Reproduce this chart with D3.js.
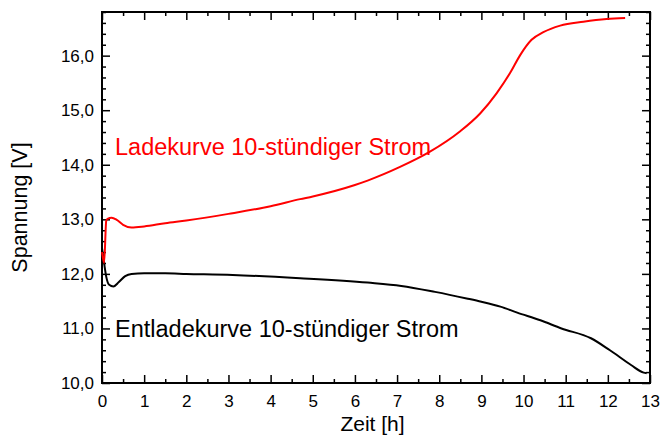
<!DOCTYPE html>
<html>
<head>
<meta charset="utf-8">
<script src="https://cdn.jsdelivr.net/npm/d3@7"></script>
<style>
	body { margin: 0; background: #fff; }
	text { font-family: "Liberation Sans", Arial, sans-serif; }
</style>
</head>
<body>
<div id="chart"></div>
<script>
// Zeit [h] / Spannung [V]
const ladeZeit = [0, 0.05, 0.1, 0.13, 0.23, 0.35, 0.5, 0.7, 1.0, 1.5, 2.0, 3.0, 4.0, 4.7, 5.0, 6.0, 6.3, 7.07, 7.78, 8.49, 8.97, 9.36, 9.68, 9.92, 10.19, 10.47, 10.87, 11.42, 11.97, 12.41];
const ladeSpannung = [12.4, 12.2, 12.97, 13.01, 13.03, 12.99, 12.9, 12.85, 12.87, 12.93, 12.98, 13.1, 13.24, 13.37, 13.42, 13.63, 13.71, 13.96, 14.24, 14.61, 14.94, 15.31, 15.68, 16.01, 16.29, 16.43, 16.55, 16.62, 16.67, 16.69];

const entladeZeit = [0, 0.05, 0.1, 0.17, 0.27, 0.4, 0.55, 0.7, 1.0, 1.5, 2.0, 3.1, 4.7, 6.3, 7.1, 7.9, 8.65, 9.0, 9.45, 9.85, 10.4, 10.9, 11.6, 12.05, 12.55, 12.85, 12.92];
const entladeSpannung = [12.47, 12.2, 11.95, 11.8, 11.77, 11.85, 11.96, 12.0, 12.01, 12.01, 12.0, 11.98, 11.92, 11.84, 11.78, 11.67, 11.55, 11.49, 11.4, 11.29, 11.15, 11.0, 10.82, 10.6, 10.33, 10.19, 10.18];

const xTicks = d3.range(0, 14, 1);
const yTicks = [10, 11, 12, 13, 14, 15, 16];

let margin = { top: 12, right: 18, bottom: 54, left: 102 },
	width = 668 - margin.left - margin.right,
	height = 437 - margin.top - margin.bottom;

let svg = d3.select('#chart')
	.append('svg')
	.attr('width', 668)
	.attr('height', 437)
	.append('g')
	.attr('transform', 'translate(' + margin.left + ', ' + margin.top + ')');

let xScale = d3.scaleLinear().domain([0, 13]).range([0, width]);
let yScale = d3.scaleLinear().domain([10, 16.8]).range([height, 0]);

let fmt = d => d3.format('.1f')(d).replace('.', ',');
let xMinor = d3.range(0.5, 13, 1);
let yMinor = d3.range(10, 16.81, 0.2).filter(v => Math.abs(v - Math.round(v)) > 0.01);

//inward ticks on all four sides
function ticks(axis, values, size, fmtFn, pad) {
	return axis.tickValues(values).tickSize(-size).tickPadding(pad).tickFormat(fmtFn);
}

let bottomAxis = svg.append('g').attr('transform', `translate(0, ${height})`);
bottomAxis.append('g').call(ticks(d3.axisBottom(xScale), xMinor, 4, '', 0));
bottomAxis.append('g').call(ticks(d3.axisBottom(xScale), xTicks, 8, d3.format('d'), 12));

let topAxis = svg.append('g');
topAxis.append('g').call(ticks(d3.axisTop(xScale), xMinor, 4, '', 0));
topAxis.append('g').call(ticks(d3.axisTop(xScale), xTicks, 8, '', 0));

let leftAxis = svg.append('g');
leftAxis.append('g').call(ticks(d3.axisLeft(yScale), yMinor, 4, '', 0));
leftAxis.append('g').call(ticks(d3.axisLeft(yScale), yTicks, 8, fmt, 8));

let rightAxis = svg.append('g').attr('transform', `translate(${width}, 0)`);
rightAxis.append('g').call(ticks(d3.axisRight(yScale), yMinor, 4, '', 0));
rightAxis.append('g').call(ticks(d3.axisRight(yScale), yTicks, 8, '', 0));

svg.selectAll('.domain').remove();
svg.selectAll('.tick line').attr('stroke', '#000').attr('stroke-width', 1.5);
svg.selectAll('.tick text').style('font-size', '17px').attr('fill', '#000');

svg.append('rect')
	.attr('width', width)
	.attr('height', height)
	.attr('fill', 'none')
	.attr('stroke', '#000')
	.attr('stroke-width', 2);

let line = d3.line()
	.x(d => xScale(d[0]))
	.y(d => yScale(d[1]))
	.curve(d3.curveMonotoneX);

svg.append('path')
	.datum(entladeZeit.map((t, i) => [t, entladeSpannung[i]]))
	.attr('d', line)
	.attr('fill', 'none')
	.attr('stroke', '#000')
	.attr('stroke-width', 2);

svg.append('path')
	.datum(ladeZeit.map((t, i) => [t, ladeSpannung[i]]))
	.attr('d', line)
	.attr('fill', 'none')
	.attr('stroke', '#ff0000')
	.attr('stroke-width', 2);

svg.append('text')
	.attr('x', 13)
	.attr('y', 143)
	.attr('fill', '#ff0000')
	.style('font-size', '23.5px')
	.text('Ladekurve 10-stündiger Strom');

svg.append('text')
	.attr('x', 13)
	.attr('y', 325)
	.attr('fill', '#000')
	.style('font-size', '23.5px')
	.text('Entladekurve 10-stündiger Strom');

svg.append('text')
	.attr('x', 270.5)
	.attr('y', 419)
	.style('text-anchor', 'middle')
	.style('font-size', '21px')
	.text('Zeit [h]');

svg.append('text')
	.attr('transform', 'rotate(-90)')
	.attr('x', -195.5)
	.attr('y', -75)
	.style('text-anchor', 'middle')
	.style('font-size', '21.5px')
	.text('Spannung [V]');
</script>
</body>
</html>
